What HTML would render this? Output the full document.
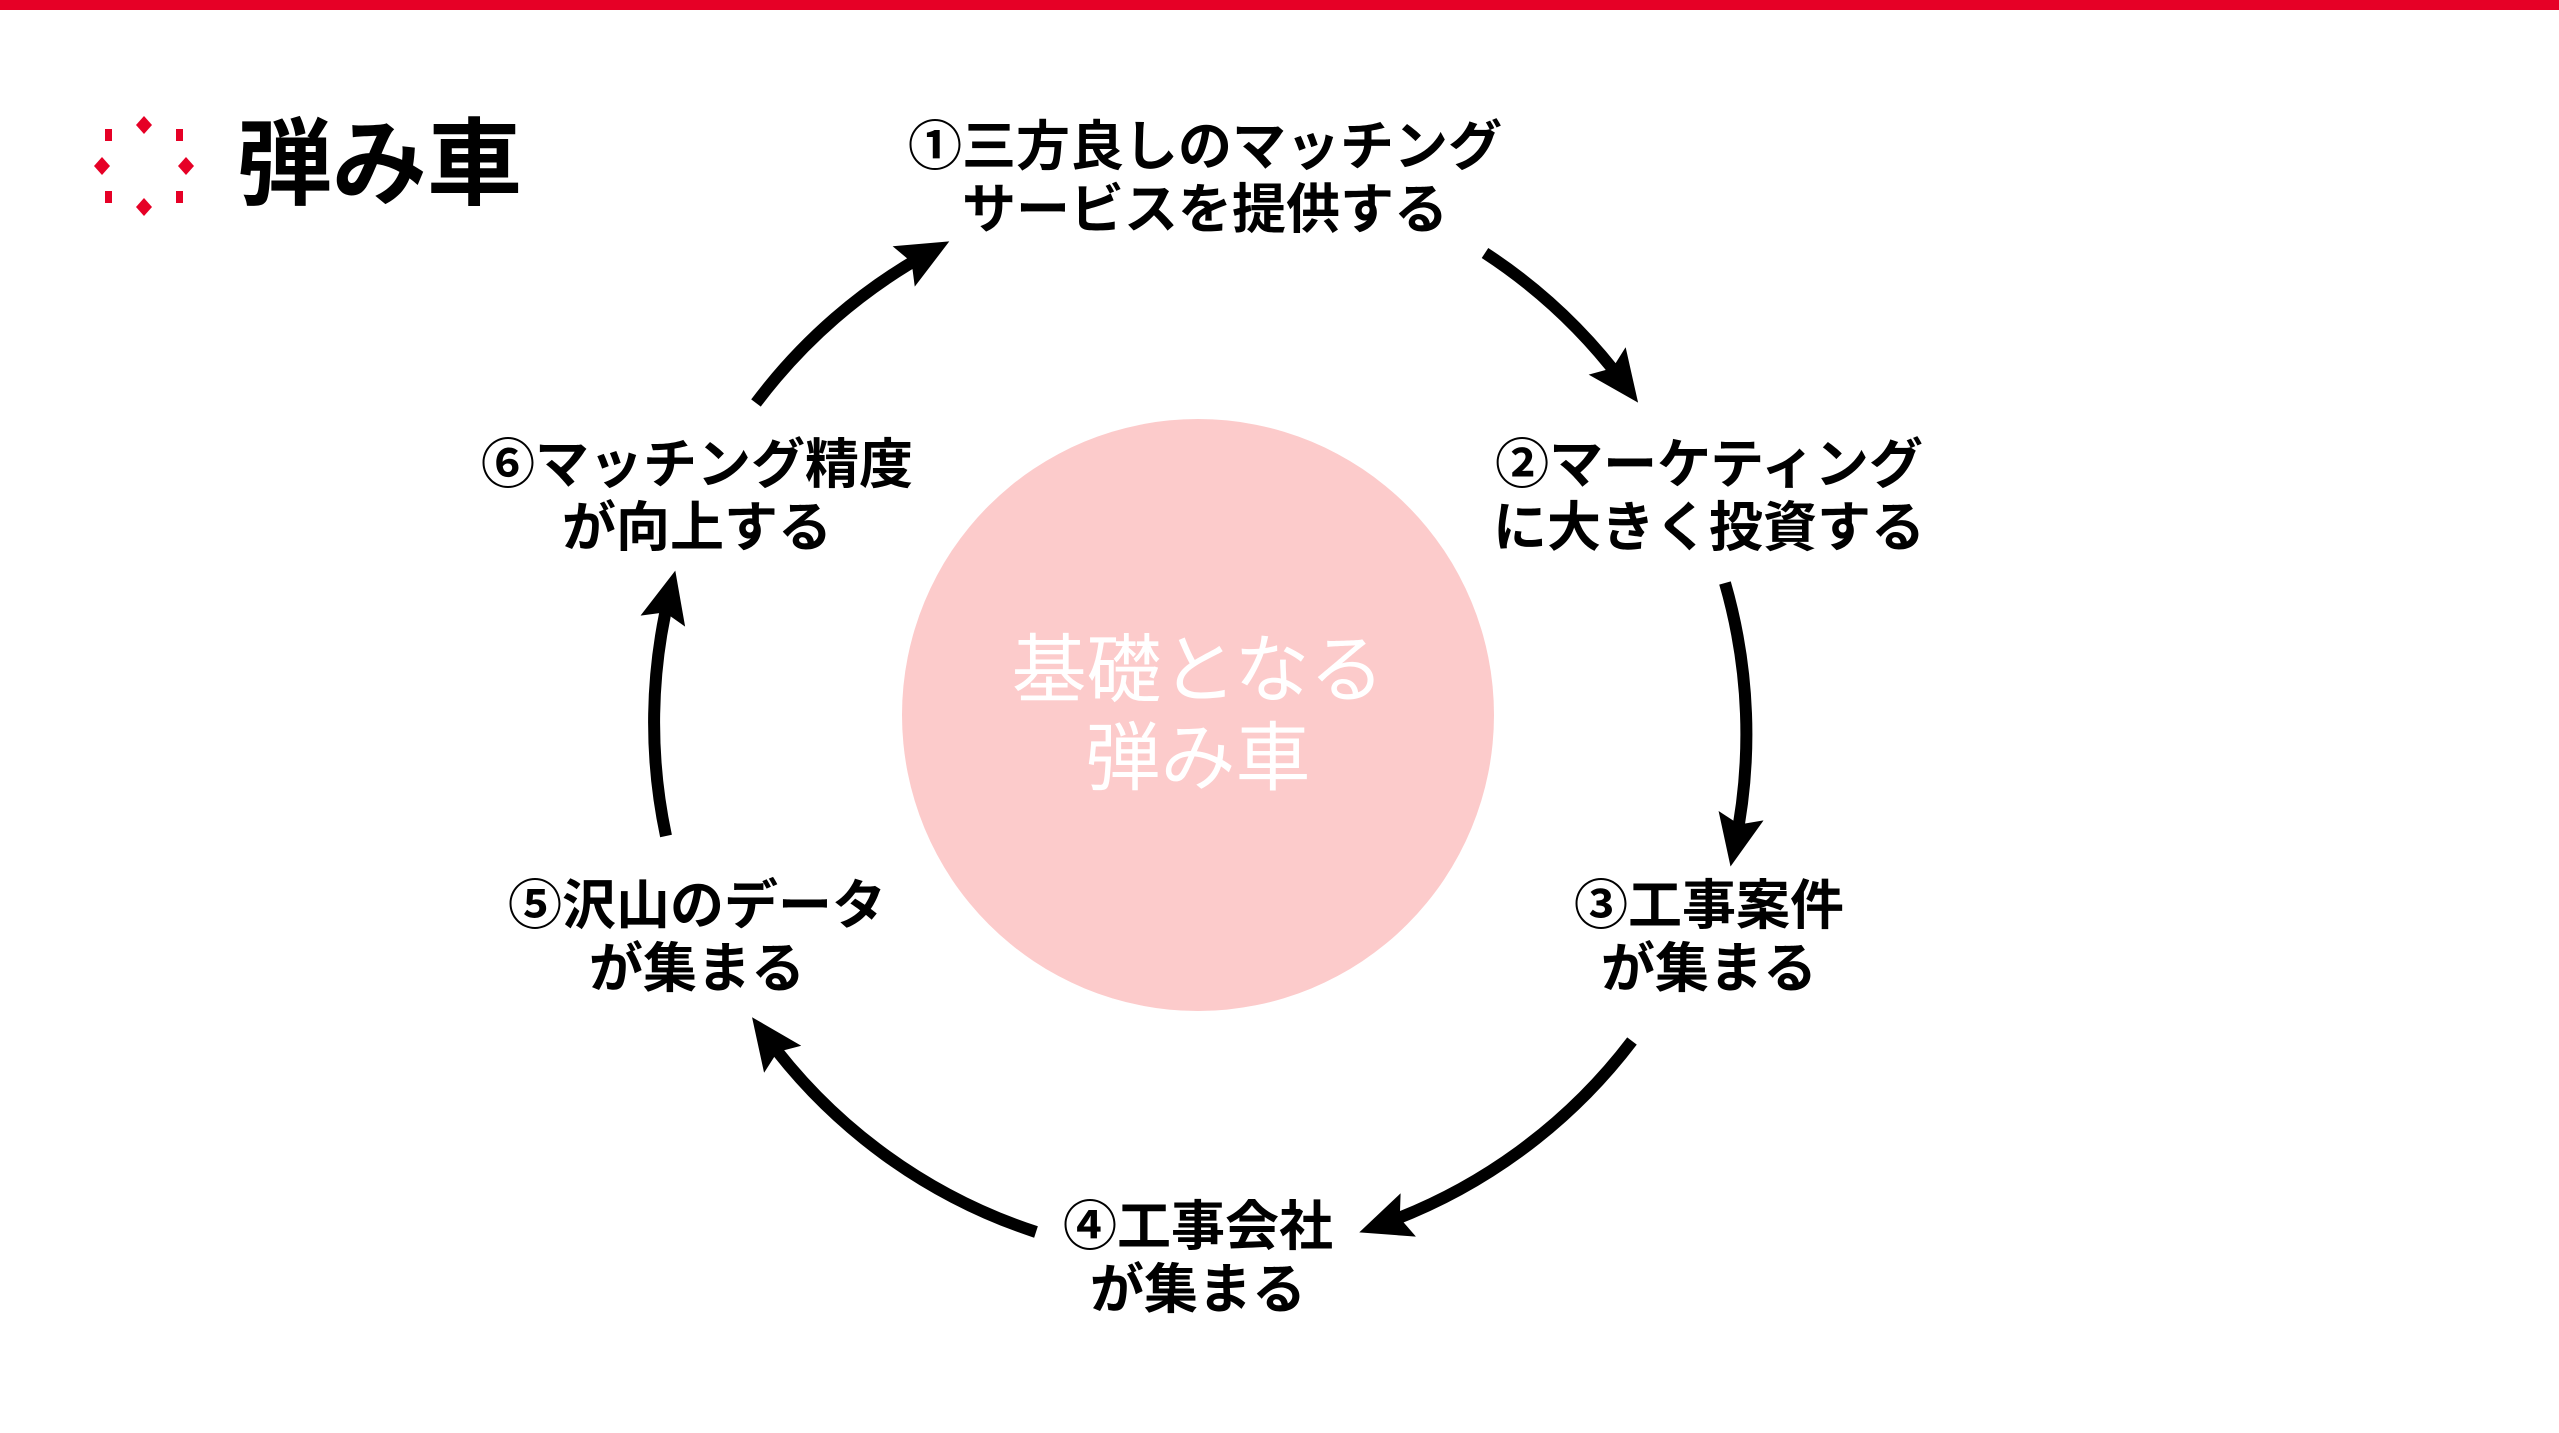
<!DOCTYPE html>
<html><head><meta charset="utf-8"><style>
html,body{margin:0;padding:0;background:#fff;}
body{width:2559px;height:1433px;position:relative;overflow:hidden;font-family:"Liberation Sans","Noto Sans CJK JP",sans-serif;}
.bar{position:absolute;left:0;top:0;width:2559px;height:10px;background:#e60026;}
.lbl{position:absolute;text-align:center;font-weight:bold;font-size:54px;line-height:63px;color:#000;white-space:nowrap;transform:translateX(-50%);}
</style></head><body>
<div class="bar"></div>
<svg width="2559" height="1433" style="position:absolute;left:0;top:0">
<defs><marker id="ah" markerUnits="userSpaceOnUse" markerWidth="56" markerHeight="50" refX="30" refY="23" orient="auto"><path d="M0,0 L52,23 L0,46 L9,23 z" fill="#000"/></marker></defs>
<g fill="#e60026">
<path d="M144,116 l8,9 l-8,9 l-8,-9z"/><path d="M144,198 l8,9 l-8,9 l-8,-9z"/>
<path d="M94,166 l8,-9 l8,9 l-8,9z"/><path d="M178,166 l8,-9 l8,9 l-8,9z"/>
<rect x="105" y="129" width="7" height="12"/><rect x="176" y="129" width="7" height="12"/>
<rect x="105" y="191" width="7" height="12"/><rect x="176" y="191" width="7" height="12"/>
</g>
<circle cx="1198" cy="715" r="296" fill="#fccbcb"/>
<g fill="none" stroke="#000" stroke-width="12" marker-end="url(#ah)">
<path d="M756,403 A545,545 0 0 1 930,252"/>
<path d="M1485,253 A545,545 0 0 1 1625,385"/>
<path d="M1725,583 A545,545 0 0 1 1735,845"/>
<path d="M1632,1041 A545,545 0 0 1 1380,1225"/>
<path d="M1036,1232 A545,545 0 0 1 765,1035"/>
<path d="M666,836 A545,545 0 0 1 670,592"/>
</g>
</svg>
<div style="position:absolute;left:237px;top:110px;font-size:95px;font-weight:bold;line-height:110px;">弾み車</div>
<div class="lbl" style="left:1205px;top:116px">①三方良しのマッチング<br>サービスを提供する</div>
<div class="lbl" style="left:1709px;top:434px">②マーケティング<br>に大きく投資する</div>
<div class="lbl" style="left:1709px;top:875px">③工事案件<br>が集まる</div>
<div class="lbl" style="left:1198px;top:1196px">④工事会社<br>が集まる</div>
<div class="lbl" style="left:697px;top:875px">⑤沢山のデータ<br>が集まる</div>
<div class="lbl" style="left:697px;top:434px">⑥マッチング精度<br>が向上する</div>
<div class="lbl" style="left:1198px;top:626px;font-weight:normal;font-size:75px;line-height:88px;color:#fff">基礎となる<br>弾み車</div>
</body></html>
